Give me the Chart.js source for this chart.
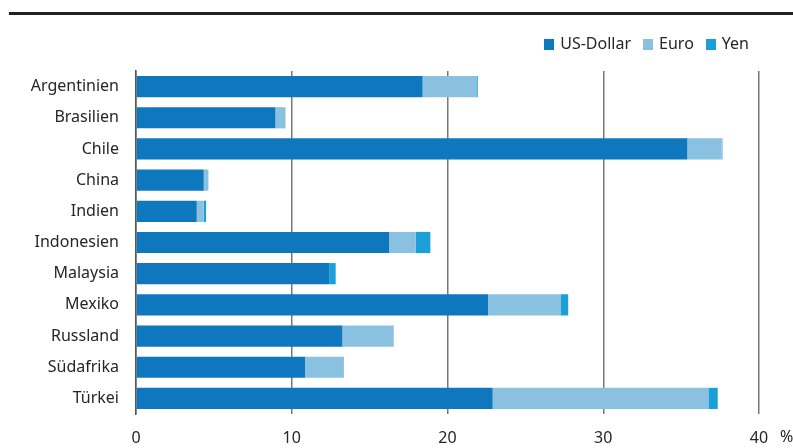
<!DOCTYPE html>
<html>
<head>
<meta charset="utf-8">
<script src="https://cdn.jsdelivr.net/npm/chart.js@4"></script>
<style>
  body { margin: 0; background: #fff; }
  #wrap { position: relative; width: 793px; height: 448px; font-family: "Noto Sans", sans-serif; color: #262626; }
  #topline { position: absolute; left: 9px; right: 0; top: 12px; height: 3px; background: #222; }
  #legend { position: absolute; right: 44px; top: 32px; font-size: 16px; line-height: 22px; white-space: nowrap; }
  #legend span.item { margin-left: 12px; }
  #legend span.box { display: inline-block; width: 10px; height: 11px; margin-right: 6px; vertical-align: -1px; }
</style>
</head>
<body>
<div id="wrap">
  <canvas id="chartBar" width="793" height="448"></canvas>
  <div id="topline"></div>
  <div id="legend"></div>
</div>
<script>
const labels = ["Argentinien", "Brasilien", "Chile", "China", "Indien", "Indonesien",
                "Malaysia", "Mexiko", "Russland", "Südafrika", "Türkei"];

const usDollar = [18.4, 8.95, 35.4, 4.35, 3.9, 16.25, 12.4, 22.6, 13.25, 10.85, 22.9];
const euro     = [3.5, 0.65, 2.2, 0.3, 0.45, 1.7, 0, 4.65, 3.3, 2.5, 13.85];
const yen      = [0.05, 0, 0.05, 0, 0.15, 0.95, 0.42, 0.5, 0, 0, 0.6];

const xTicks = [0, 10, 20, 30, 40];

const data = {
  labels: labels,
  datasets: [
    { label: "US-Dollar", backgroundColor: "#0f77bd", data: usDollar },
    { label: "Euro", backgroundColor: "#8bc1e0", data: euro },
    { label: "Yen", backgroundColor: "#1a9fd9", data: yen },
  ],
};

// legend as html
const legend = document.getElementById("legend");
data.datasets.forEach(function (ds) {
  const item = document.createElement("span");
  item.className = "item";
  const box = document.createElement("span");
  box.className = "box";
  box.style.background = ds.backgroundColor;
  item.appendChild(box);
  item.appendChild(document.createTextNode(ds.label));
  legend.appendChild(item);
});

// "%" after the last tick, same line as the tick labels
const percentSign = {
  id: "percentSign",
  afterDraw(chart) {
    const x = chart.scales.x;
    const ctx = chart.ctx;
    ctx.save();
    ctx.font = "16px 'Noto Sans'";
    ctx.fillStyle = "#262626";
    ctx.textBaseline = "top";
    ctx.fillText("%", x.getPixelForValue(40) + 21, x.top + 15);
    ctx.restore();
  },
};

const config = {
  type: "bar",
  data,
  options: {
    indexAxis: "y",
    responsive: false,
    animation: false,
    layout: { padding: { left: 0, right: 34, top: 71, bottom: 0 } },
    datasets: { bar: { barPercentage: 0.68, categoryPercentage: 1 } },
    plugins: { legend: { display: false }, tooltip: { enabled: false } },
    scales: {
      x: {
        stacked: true,
        min: 0,
        max: 40,
        afterBuildTicks(scale) { scale.ticks = xTicks.map(v => ({ value: v })); },
        afterFit(scale) { scale.height = 34; },
        border: { display: false },
        grid: { color: "#777", lineWidth: 1.5, drawTicks: false },
        ticks: { padding: 15, color: "#262626", font: { family: "Noto Sans", size: 16 } },
      },
      y: {
        stacked: true,
        afterFit(scale) { scale.width = 136; },
        border: { color: "#555", width: 1.5 },
        grid: { display: false, drawTicks: false },
        ticks: { padding: 17, color: "#262626", font: { family: "Noto Sans", size: 16 } },
      },
    },
  },
  plugins: [percentSign],
};

var chartBar = new Chart(document.getElementById("chartBar"), config);
</script>
</body>
</html>
